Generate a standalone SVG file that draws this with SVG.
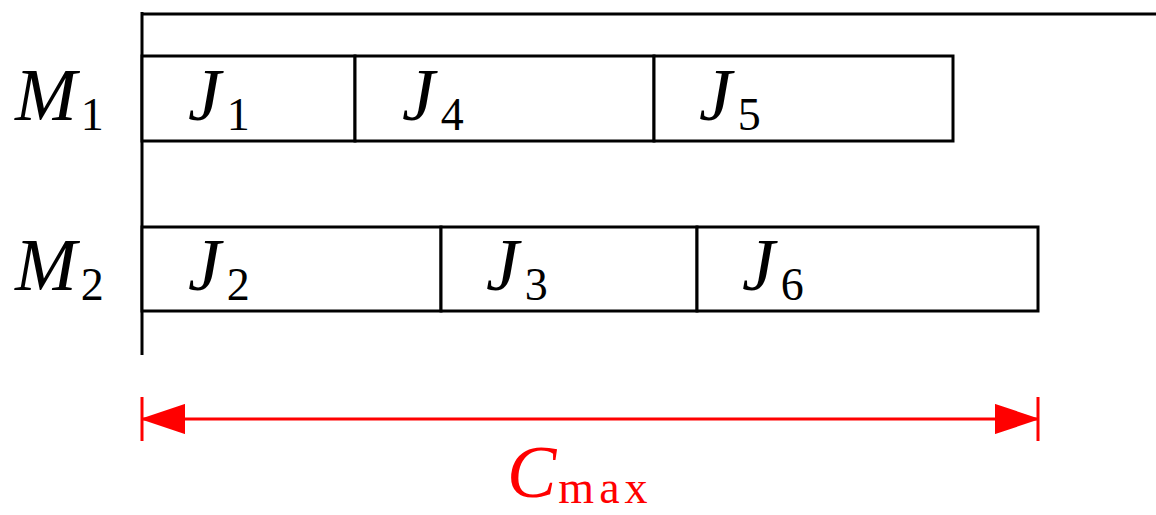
<svg xmlns="http://www.w3.org/2000/svg" width="1156" height="515" viewBox="0 0 1156 515">
<style>
.ln{stroke:#000;stroke-width:3;fill:none}
.box{stroke:#000;stroke-width:3;fill:#fff}
.v{font-family:"Liberation Serif",serif;font-style:italic;font-size:74px;fill:#000}
.s{font-family:"Liberation Serif",serif;font-style:normal;font-size:46px}
.red{stroke:#f00;stroke-width:3;fill:none}
</style>
<defs>
<marker id="ah" viewBox="0 0 42 30" refX="42" refY="15" markerWidth="42" markerHeight="30" markerUnits="userSpaceOnUse" orient="auto-start-reverse">
<path d="M0,1 L42,15 L0,29 Z" fill="#f00" stroke="#f00" stroke-width="2" stroke-linejoin="round"/>
</marker>
</defs>
<g id="axes">
<line class="ln" x1="142" y1="14" x2="1156" y2="14"/>
<line class="ln" x1="142" y1="12" x2="142" y2="355"/>
</g>
<g id="M1">
<text class="v" x="15" y="120">M<tspan class="s" dx="4" dy="10">1</tspan></text>
</g>
<g id="M2">
<text class="v" x="15" y="290">M<tspan class="s" dx="4" dy="10">2</tspan></text>
</g>
<g id="J1"><rect class="box" x="142" y="56" width="213" height="85"/><text class="v" x="188" y="120">J<tspan class="s" dx="6" dy="10">1</tspan></text></g>
<g id="J4"><rect class="box" x="355" y="56" width="299" height="85"/><text class="v" x="402" y="120">J<tspan class="s" dx="6" dy="10">4</tspan></text></g>
<g id="J5"><rect class="box" x="654" y="56" width="299" height="85"/><text class="v" x="699" y="120">J<tspan class="s" dx="6" dy="10">5</tspan></text></g>
<g id="J2"><rect class="box" x="142" y="227" width="299" height="84"/><text class="v" x="188" y="290">J<tspan class="s" dx="6" dy="10">2</tspan></text></g>
<g id="J3"><rect class="box" x="441" y="227" width="256" height="84"/><text class="v" x="486" y="290">J<tspan class="s" dx="6" dy="10">3</tspan></text></g>
<g id="J6"><rect class="box" x="697" y="227" width="341" height="84"/><text class="v" x="742" y="290">J<tspan class="s" dx="6" dy="10">6</tspan></text></g>
<g id="connectors">
<line class="red" x1="142" y1="397" x2="142" y2="441"/>
<line class="red" x1="1038" y1="397" x2="1038" y2="441"/>
<line class="red" x1="143" y1="419" x2="1037" y2="419" marker-start="url(#ah)" marker-end="url(#ah)"/>
</g>
<g id="Cmax">
<text x="507" y="497" style="font-family:'Liberation Serif',serif;font-style:italic;font-size:74px;fill:#f00">C<tspan dx="2" dy="6" style="font-style:normal;font-size:46px;letter-spacing:5px">max</tspan></text>
</g>
</svg>
